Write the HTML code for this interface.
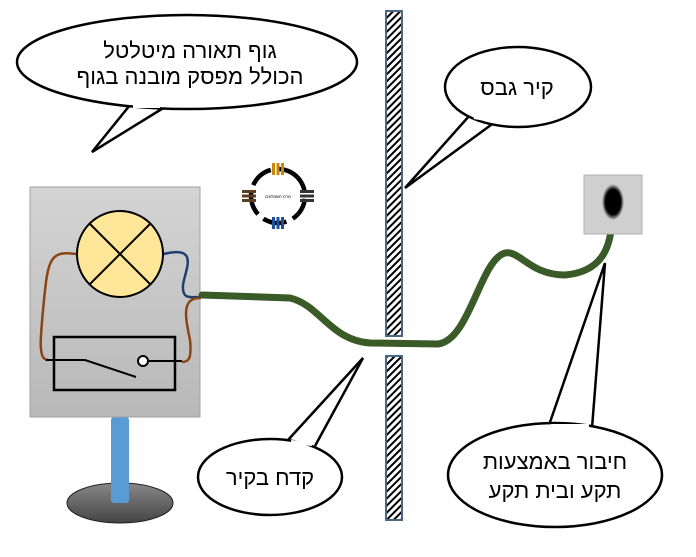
<!DOCTYPE html>
<html><head><meta charset="utf-8"><style>
body{margin:0;background:#fff}
text{font-family:"Liberation Sans","DejaVu Sans",sans-serif}
</style></head><body>
<svg width="696" height="552" viewBox="0 0 696 552" xmlns="http://www.w3.org/2000/svg">
<defs>
<pattern id="h" width="5" height="5" patternUnits="userSpaceOnUse" patternTransform="rotate(45)">
<rect width="5" height="5" fill="#fff"/><rect width="2" height="5" fill="#000"/></pattern>
<linearGradient id="g" x1="0" y1="0" x2="0" y2="1"><stop offset="0" stop-color="#d4d4d4"/><stop offset="1" stop-color="#b8b8b8"/></linearGradient>
<linearGradient id="b" x1="0" y1="0" x2="0" y2="1"><stop offset="0" stop-color="#888"/><stop offset="1" stop-color="#444"/></linearGradient>
<radialGradient id="o"><stop offset="0.7" stop-color="#000"/><stop offset="1" stop-color="#000" stop-opacity="0"/></radialGradient>
</defs>
<rect x="386" y="11" width="16" height="325" fill="url(#h)" stroke="#4a6785" stroke-width="2"/>
<rect x="386" y="356" width="16" height="164" fill="url(#h)" stroke="#4a6785" stroke-width="2"/>
<ellipse cx="120" cy="503" rx="53" ry="20" fill="url(#b)" stroke="#222"/>
<rect x="111" y="417" width="18" height="86" rx="3" fill="#5b9bd5"/>
<rect x="30" y="187" width="170" height="230" fill="url(#g)" stroke="#a0a0a0"/>
<path d="M76 254 C50 250,48 260,44 300 C40 340,38 360,48 360" fill="none" stroke="#8b4513" stroke-width="2.5"/>
<path d="M164 254 C200 245,185 270,183 285 C182 300,190 297,201 297" fill="none" stroke="#1f3f6f" stroke-width="2.5"/>
<path d="M201 298 C180 297,186 320,190 340 C192 360,188 362,182 362" fill="none" stroke="#8b4513" stroke-width="2.5"/>
<circle cx="120" cy="254" r="43" fill="#ffe699" stroke="#000" stroke-width="2"/>
<path d="M90 224 L150 284 M150 224 L90 284" stroke="#000" stroke-width="2"/>
<rect x="54" y="337" width="121" height="53" fill="none" stroke="#000" stroke-width="2.5"/>
<path d="M46 360 H85 L136 377 M148 361 H182" stroke="#000" stroke-width="2" fill="none"/>
<circle cx="143" cy="361" r="5" fill="#fff" stroke="#000" stroke-width="2"/>
<path d="M202 295 L290 298 C320 305,330 340,370 343 L438 344 C470 340,480 260,505 253 C520 250,530 275,565 275 C600 272,612 250,612 215" fill="none" stroke="#3a5a28" stroke-width="7" stroke-linecap="round"/>
<rect x="584" y="175" width="58" height="59" fill="#cfcfcf" stroke="#b0b0b0"/>
<ellipse cx="613" cy="202" rx="11" ry="18" fill="url(#o)"/>
<g transform="translate(278,196)">
<circle r="27" fill="none" stroke="#000" stroke-width="4.5" stroke-dasharray="24 7" transform="rotate(-60)"/>
<rect x="-6" y="-33" width="3" height="12" fill="#c8860a"/><rect x="-1.5" y="-33" width="3" height="12" fill="#c8860a"/><rect x="3" y="-33" width="3" height="12" fill="#c8860a"/>
<rect x="-6" y="21" width="3" height="12" fill="#1f4e99"/><rect x="-1.5" y="21" width="3" height="12" fill="#1f4e99"/><rect x="3" y="21" width="3" height="12" fill="#1f4e99"/>
<rect x="-36" y="-6" width="14" height="3" fill="#5a4020"/><rect x="-36" y="-1.5" width="14" height="3" fill="#5a4020"/><rect x="-36" y="3" width="14" height="3" fill="#5a4020"/>
<rect x="22" y="-6" width="14" height="3" fill="#333"/><rect x="22" y="-1.5" width="14" height="3" fill="#333"/><rect x="22" y="3" width="14" height="3" fill="#333"/>
<text x="0" y="2" font-size="4" text-anchor="middle">מרכז חשמלאים</text>
</g>
<g fill="#fff" stroke="#000" stroke-width="2.5">
<path d="M130 105 L92 152 L165 107"/>
<ellipse cx="187" cy="62" rx="170" ry="47"/>
<path d="M470 115 L405 188 L495 122"/>
<ellipse cx="518" cy="87" rx="73" ry="40"/>
<path d="M288 440 L363 358 L315 446"/>
<ellipse cx="270" cy="477" rx="72" ry="38"/>
<path d="M548 428 L605 263 L592 428"/>
<ellipse cx="555" cy="475" rx="107" ry="52"/>
</g>
<g stroke="#fff" stroke-width="4">
<path d="M133 106 L160 106"/><path d="M474 117 L492 120"/><path d="M291 442 L312 444"/><path d="M551 426 L589 426"/>
</g>
<g font-size="22" text-anchor="middle" fill="#000" direction="rtl">
<text x="190" y="58">גוף תאורה מיטלטל</text>
<text x="190" y="84">הכולל מפסק מובנה בגוף</text>
<text x="517" y="95">קיר גבס</text>
<text x="270" y="485">קדח בקיר</text>
<text x="555" y="469">חיבור באמצעות</text>
<text x="555" y="498">תקע ובית תקע</text>
</g>
</svg>
</body></html>
